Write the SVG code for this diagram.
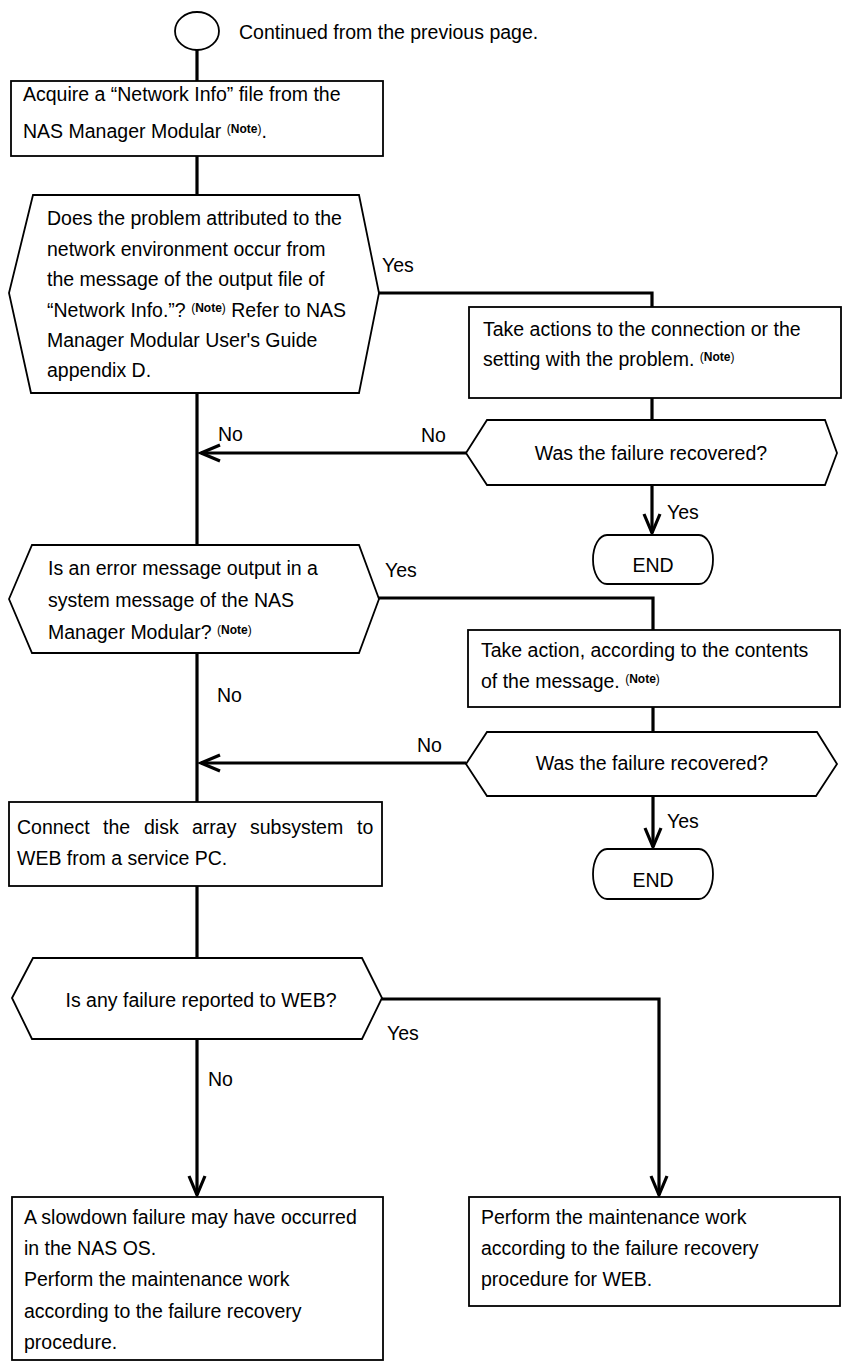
<svg xmlns="http://www.w3.org/2000/svg" width="842" height="1367" viewBox="0 0 842 1367">
<style>
text{font-family:"Liberation Sans",Arial,sans-serif;font-size:19.5px;fill:#000}
.shape{fill:#fff;stroke:#000;stroke-width:1.8}
.conn{fill:none;stroke:#000;stroke-width:3.2}
.c{text-anchor:middle}
.n{font-size:12px}
.b{font-weight:bold}
</style>
<defs>
<marker id="arr" markerUnits="userSpaceOnUse" markerWidth="30" markerHeight="30" refX="0" refY="0" orient="auto" overflow="visible">
<path d="M-19,-8 L0,0 L-19,8" fill="none" stroke="#000" stroke-width="3.2"/>
</marker>
</defs>
<rect x="0" y="0" width="842" height="1367" fill="#fff"/>
<g id="connectors">
<path class="conn" d="M197 50 V81"/>
<path class="conn" d="M197 156 V195"/>
<path class="conn" d="M379 293 H652 V307"/>
<path class="conn" d="M652 398 V420"/>
<path class="conn" d="M652 485 V533" marker-end="url(#arr)"/>
<path class="conn" d="M466 453 H201" marker-end="url(#arr)"/>
<path class="conn" d="M197 393 V545"/>
<path class="conn" d="M379 598 H653 V630"/>
<path class="conn" d="M653 707 V732"/>
<path class="conn" d="M653 796 V847" marker-end="url(#arr)"/>
<path class="conn" d="M466 763 H201" marker-end="url(#arr)"/>
<path class="conn" d="M197 653 V802"/>
<path class="conn" d="M197 886 V958"/>
<path class="conn" d="M382 999 H659 V1195" marker-end="url(#arr)"/>
<path class="conn" d="M197 1039 V1195" marker-end="url(#arr)"/>
</g>
<g id="labels">
<text x="382" y="272">Yes</text>
<text x="218" y="441">No</text>
<text x="421" y="442">No</text>
<text x="667" y="519">Yes</text>
<text x="385" y="577">Yes</text>
<text x="217" y="702">No</text>
<text x="417" y="752">No</text>
<text x="667" y="828">Yes</text>
<text x="387" y="1040">Yes</text>
<text x="208" y="1086">No</text>
</g>
<g id="start">
<ellipse class="shape" cx="197" cy="31" rx="22" ry="19"/>
<text x="239" y="39">Continued from the previous page.</text>
</g>
<g id="box1">
<rect class="shape" x="11" y="81" width="372" height="75"/>
<text x="23" y="101">Acquire a “Network Info” file from the</text>
<text x="23" y="138">NAS Manager Modular <tspan class="n" dy="-5">(<tspan class="b">Note</tspan>)</tspan><tspan dy="5">.</tspan></text>
</g>
<g id="dec1">
<polygon class="shape" points="9,293 33,195 359,195 379,293 359,393 31,393"/>
<text x="47" y="225">Does the problem attributed to the</text>
<text x="47" y="256">network environment occur from</text>
<text x="47" y="286">the message of the output file of</text>
<text x="47" y="317">“Network Info.”? <tspan class="n" dy="-5">(<tspan class="b">Note</tspan>)</tspan><tspan dy="5"> Refer to NAS</tspan></text>
<text x="47" y="347">Manager Modular User's Guide</text>
<text x="47" y="377">appendix D.</text>
</g>
<g id="box2">
<rect class="shape" x="469" y="307" width="372" height="91"/>
<text x="483" y="336">Take actions to the connection or the</text>
<text x="483" y="366">setting with the problem. <tspan class="n" dy="-5">(<tspan class="b">Note</tspan>)</tspan></text>
</g>
<g id="dec2">
<polygon class="shape" points="466,453 487,420 825,420 837,453 825,485 487,485"/>
<text class="c" x="651" y="460">Was the failure recovered?</text>
</g>
<g id="end1">
<path class="shape" d="M607,535 H699 A14,24.5 0 0 1 699,584 H607 A14,24.5 0 0 1 607,535 Z"/>
<text class="c" x="653" y="572">END</text>
</g>
<g id="dec3">
<polygon class="shape" points="9,599 32,545 359,545 379,599 359,653 32,653"/>
<text x="48" y="575">Is an error message output in a</text>
<text x="48" y="607">system message of the NAS</text>
<text x="48" y="639">Manager Modular? <tspan class="n" dy="-5">(<tspan class="b">Note</tspan>)</tspan></text>
</g>
<g id="box3">
<rect class="shape" x="468" y="630" width="372" height="77"/>
<text x="481" y="657">Take action, according to the contents</text>
<text x="481" y="688">of the message. <tspan class="n" dy="-5">(<tspan class="b">Note</tspan>)</tspan></text>
</g>
<g id="dec4">
<polygon class="shape" points="466,764 487,732 817,732 837,764 816,796 487,796"/>
<text class="c" x="652" y="770">Was the failure recovered?</text>
</g>
<g id="end2">
<path class="shape" d="M607,849 H699 A14,25 0 0 1 699,899 H607 A14,25 0 0 1 607,849 Z"/>
<text class="c" x="653" y="887">END</text>
</g>
<g id="box4">
<rect class="shape" x="9" y="802" width="373" height="84"/>
<text y="834"><tspan x="17">Connect</tspan><tspan x="103">the</tspan><tspan x="144">disk</tspan><tspan x="192">array</tspan><tspan x="250">subsystem</tspan><tspan x="357">to</tspan></text>
<text x="17" y="865">WEB from a service PC.</text>
</g>
<g id="dec5">
<polygon class="shape" points="12,998 33,958 362,958 382,998 362,1039 32,1039"/>
<text class="c" x="201" y="1007">Is any failure reported to WEB?</text>
</g>
<g id="box5">
<rect class="shape" x="12" y="1197" width="371" height="163"/>
<text x="24" y="1224">A slowdown failure may have occurred</text>
<text x="24" y="1255">in the NAS OS.</text>
<text x="24" y="1286">Perform the maintenance work</text>
<text x="24" y="1318">according to the failure recovery</text>
<text x="24" y="1349">procedure.</text>
</g>
<g id="box6">
<rect class="shape" x="469" y="1197" width="371" height="109"/>
<text x="481" y="1224">Perform the maintenance work</text>
<text x="481" y="1255">according to the failure recovery</text>
<text x="481" y="1286">procedure for WEB.</text>
</g>
</svg>
